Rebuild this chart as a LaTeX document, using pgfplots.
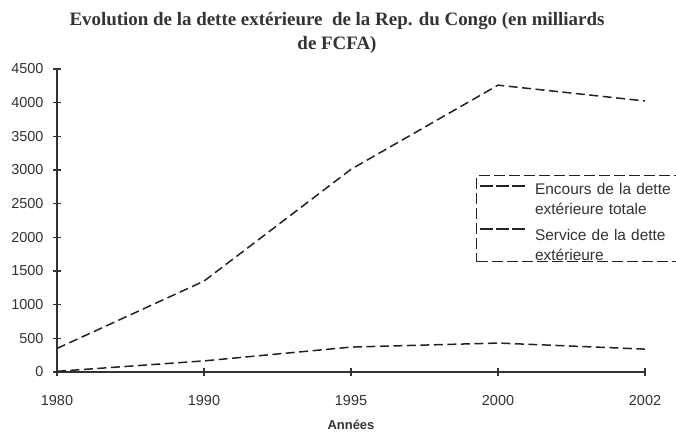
\documentclass[border=0pt]{standalone}
\usepackage{pgfplots}
\pgfplotsset{compat=1.18}
\usepackage{fontspec}
\setmainfont{Liberation Sans}
\newfontfamily\seriffont{Liberation Serif}
\definecolor{ink}{HTML}{333333}
\definecolor{linec}{HTML}{222222}
\newcommand{\st}[1]{\rule{0pt}{#1}}
\begin{document}
\begin{tikzpicture}[x=1bp,y=1bp]
\useasboundingbox (0,0) rectangle (676,432);
\begin{axis}[
  at={(57bp,60bp)}, anchor=south west,
  scale only axis, width=588bp, height=303bp,
  xmin=0, xmax=4, ymin=0, ymax=4500,
  axis x line=bottom, axis y line=left,
  axis line style={-, ink, line width=1.3bp},
  y axis line style={line width=1.6bp},
  xtick={0,1,2,3,4},
  xticklabels={1980,1990,1995,2000,2002},
  ytick={0,500,...,4500},
  tick align=center, major tick length=8bp,
  tick style={ink, line width=1.2bp},
  /pgf/number format/assume math mode=true,
  /pgf/number format/1000 sep={},
  ticklabel style={font=\fontsize{14.5}{16}\selectfont, text=ink},
  yticklabel style={anchor=east, xshift=-6bp},
  xticklabel style={anchor=base, yshift=-29bp},
  xlabel={\bfseries Années},
  xlabel style={at={(axis description cs:0.5,0)}, anchor=base, yshift=-57bp, font=\fontsize{13}{15}\selectfont, text=ink},
  legend style={at={(0.7126,0.650)}, anchor=north west,
    draw=linec, line width=1.1bp, dash pattern=on 11bp off 4bp,
    font=\fontsize{15.5}{18}\selectfont, text=ink,
    nodes={inner xsep=2bp, inner ysep=0bp, text width=140bp, align=left},
    inner xsep=3bp, inner ysep=0bp, row sep=0bp, column sep=5bp},
  legend image code/.code={\draw[#1, line width=1.5bp, dash pattern=on 13bp off 3bp] (0bp,0bp) -- (47bp,0bp);},
]
\addplot[linec, line width=1.5bp, dash pattern=on 9bp off 4.5bp] coordinates {
  (0,350) (1,1350) (2,3010) (3,4260) (4,4025)};
\addlegendentry{\st{19bp}Encours de la dette}
\addlegendimage{empty legend}
\addlegendentry{\st{18bp}extérieure totale}
\addplot[linec, line width=1.5bp, dash pattern=on 9bp off 4.5bp] coordinates {
  (0,10) (1,165) (2,370) (3,430) (4,340)};
\addlegendentry{\st{25bp}Service de la dette}
\addlegendimage{empty legend}
\addlegendentry{\st{18bp}extérieure}
\end{axis}
\node[anchor=base, font=\seriffont\bfseries\fontsize{19}{22}\selectfont, text=ink] at (337,406) {Evolution de la dette extérieure\ \ de la Rep. du Congo (en milliards};
\node[anchor=base, font=\seriffont\bfseries\fontsize{19}{22}\selectfont, text=ink] at (337,383) {de FCFA)};
\end{tikzpicture}
\end{document}
